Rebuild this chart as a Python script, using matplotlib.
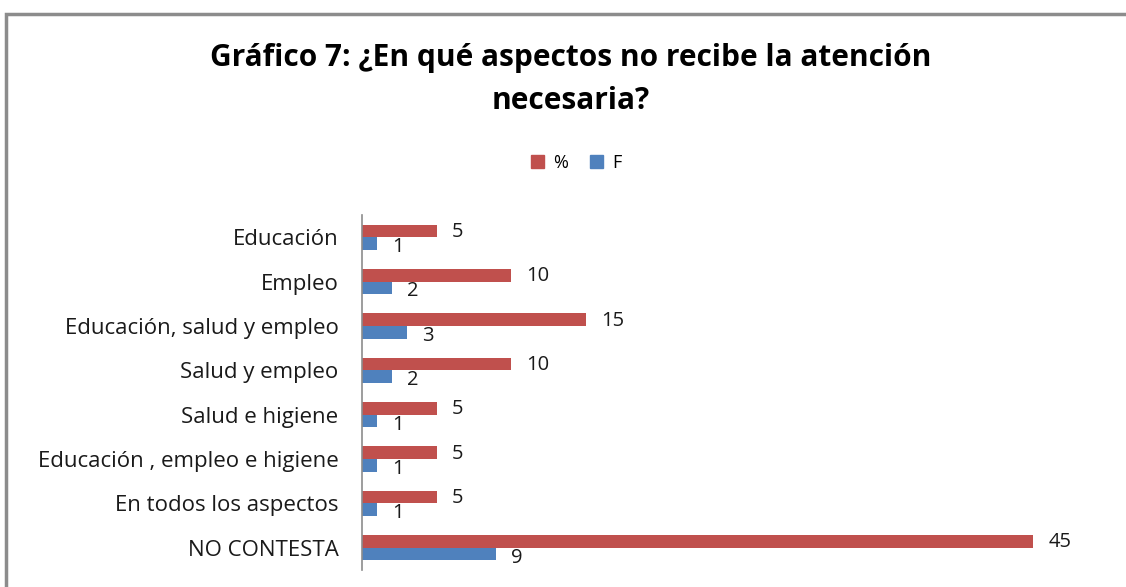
import matplotlib.pyplot as plt
from matplotlib.patches import Rectangle, Patch
import numpy as np

plt.rcParams['font.family'] = ['Open Sans', 'DejaVu Sans']

categories = ["Educación", "Empleo", "Educación, salud y empleo", "Salud y empleo",
              "Salud e higiene", "Educación , empleo e higiene", "En todos los aspectos",
              "NO CONTESTA"]
pct = [5, 10, 15, 10, 5, 5, 5, 45]
freq = [1, 2, 3, 2, 1, 1, 1, 9]

red = "#C0504D"
blue = "#4F81BD"

fig = plt.figure(figsize=(11.26, 5.87), dpi=100)
# chart frame (only top and left edges are visible in the crop)
fig.patches.append(Rectangle((6 / 1126, -0.1), 1.2, 1 - 14 / 587 + 0.1,
                             transform=fig.transFigure, fill=False,
                             edgecolor="#8c8c8c", linewidth=2.5))

ax = fig.add_axes([362 / 1126, 17 / 587, (1108 - 362) / 1126, (572 - 217) / 587])

y = np.arange(len(categories))
h = 0.285
ax.barh(y - h / 2, pct, height=h, color=red, label="%")
ax.barh(y + h / 2, freq, height=h, color=blue, label="F")

for yi, v in zip(y, pct):
    ax.text(v + 1.0, yi - h / 2 + 0.02, str(v), va="center", ha="left", fontsize=14.5, color="#1a1a1a")
for yi, v in zip(y, freq):
    ax.text(v + 1.0, yi + h / 2 + 0.08, str(v), va="center", ha="left", fontsize=14.5, color="#1a1a1a")

ax.set_xlim(0, 50)
ax.set_ylim(len(categories) - 0.5, -0.5)
ax.set_yticks(y)
ax.set_yticklabels(categories, fontsize=16, color="#1a1a1a")
ax.tick_params(axis="y", length=0, pad=17)
ax.set_xticks([])
for s in ["top", "right", "bottom"]:
    ax.spines[s].set_visible(False)
ax.spines["left"].set_color("#8c8c8c")
ax.spines["left"].set_linewidth(1.2)

fig.text(0.507, 1 - 58 / 587, "Gráfico 7: ¿En qué aspectos no recibe la atención",
         ha="center", va="center", fontsize=21.5, fontweight="bold")
fig.text(0.507, 1 - 101 / 587, "necesaria?",
         ha="center", va="center", fontsize=21.5, fontweight="bold")

handles = [Patch(color=red, label="%"), Patch(color=blue, label="F")]
fig.legend(handles=handles, loc="center", bbox_to_anchor=(576 / 1126, 1 - 163 / 587),
           ncol=2, frameon=False, fontsize=13, handlelength=0.75, handleheight=0.75,
           handletextpad=0.5, columnspacing=1.2)

fig.savefig("out.png", dpi=100)
